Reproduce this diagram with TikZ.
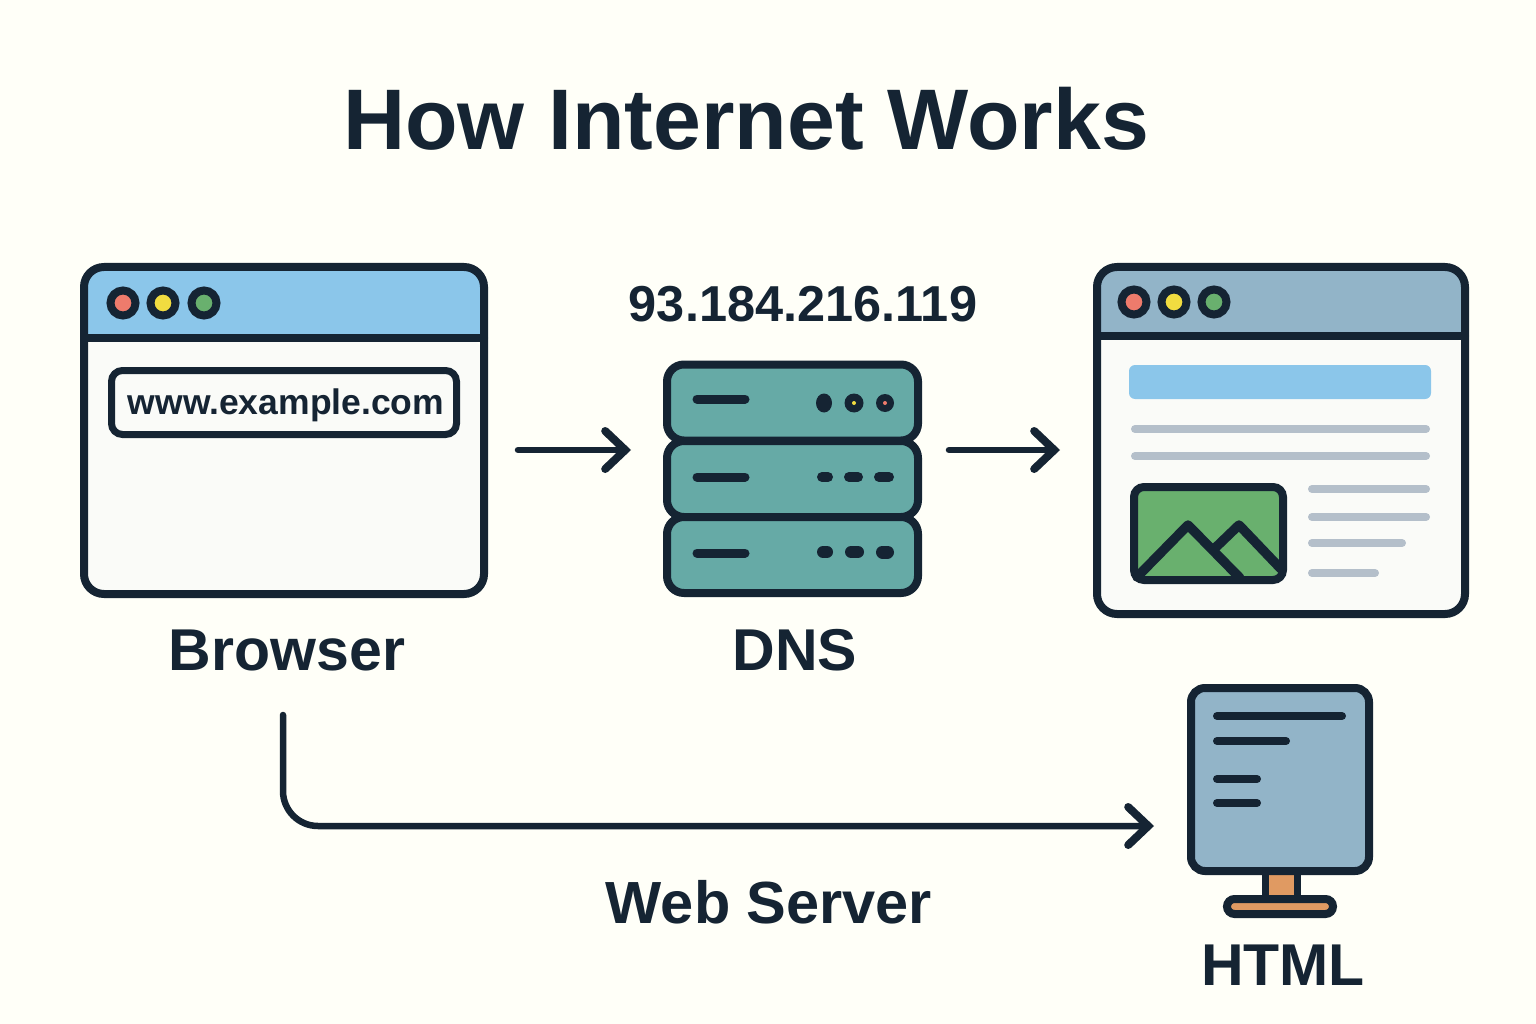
\documentclass[tikz,border=0pt]{standalone}
\usepackage{fontspec}
\setmainfont{Liberation Sans}
\usetikzlibrary{arrows.meta, shapes.geometric}
\definecolor{paperc}{HTML}{FFFFF8}
\definecolor{inkc}{HTML}{152433}
\definecolor{bodyc}{HTML}{FAFBF8}
\definecolor{skyc}{HTML}{8BC6EA}
\definecolor{slatec}{HTML}{92B4C8}
\definecolor{tealc}{HTML}{66AAA6}
\definecolor{greenc}{HTML}{69B06E}
\definecolor{redc}{HTML}{EE7B6C}
\definecolor{yellowc}{HTML}{F1DC40}
\definecolor{grayc}{HTML}{B4BFCA}
\definecolor{orangec}{HTML}{E09A62}
\tikzset{every node/.style={inner sep=0pt, outer sep=0pt, text=inkc}}
\tikzset{window/.style={draw=inkc, line width=8pt, rounded corners=20pt}}
\tikzset{rack/.style={draw=inkc, line width=8pt, fill=tealc, rounded corners=17pt, minimum width=251pt, minimum height=76pt}}
\tikzset{lamp/.style={circle, draw=inkc, line width=8pt, minimum size=25pt}}
\tikzset{flow/.style={->, draw=inkc, line width=6.5pt, line cap=round}}
\tikzset{ink/.style={draw=inkc, line cap=round, line join=round, line width=8pt}}
\tikzset{slot/.style={draw=inkc, line cap=round, line width=9pt}}
\tikzset{rule/.style={draw=grayc, line cap=round, line width=8pt}}
\tikzset{label/.style={anchor=base, font=\fontsize{59}{59}\selectfont\bfseries}}

\begin{document}
\begin{tikzpicture}[x=1pt, y=-1pt, >={Straight Barb[length=20pt, width=38pt, line width=8pt, line cap=round, line join=miter]}]
\fill[paperc] (0,0) rectangle (1536,1024);
\useasboundingbox (0,0) rectangle (1536,1024);
\node[label, font=\fontsize{86}{86}\selectfont\bfseries] (title) at (746,150) {How Internet Works};

\fill[bodyc, rounded corners=20pt] (84,338) -- (84,594) -- (484,594) -- (484,338) -- cycle;
\fill[skyc] (84,338) [rounded corners=20pt] -- (84,267) -- (484,267) [sharp corners] -- (484,338) -- cycle;
\node[window, minimum width=400pt, minimum height=327pt] (browser) at (284,430.5) {};
\draw[ink] (browser.west |- 0,338) -- (browser.east |- 0,338);
\node[lamp, fill=redc] (B0L0) at (123,303) {};
\node[lamp, fill=yellowc] (B0L1) at (163,303) {};
\node[lamp, fill=greenc] (B0L2) at (204,303) {};
\node[draw=inkc, line width=7pt, fill=bodyc, rounded corners=11pt, minimum width=345pt, minimum height=64pt] (address) at (284,402.5) {};
\node[anchor=base, font=\fontsize{35.5}{35.5}\selectfont\bfseries] (url) at (286,414) {www.example.com};
\node[label] (browserlabel) at (287,670) {Browser};

\node[anchor=base, font=\fontsize{50.5}{50.5}\selectfont\bfseries] (ip) at (803,321) {93.184.216.119};
\node[rack] (R0) at (792.5,402.5) {};
\node[rack] (R1) at (792.5,479) {};
\node[rack] (R2) at (792.5,555) {};
\draw[slot] (697,399) -- (745,399);
\draw[slot] (697,477) -- (745,477);
\draw[slot] (697,553) -- (745,553);
\node[ellipse, fill=inkc, minimum width=16pt, minimum height=19pt] (R0D0) at (824,403) {};
\node[circle, fill=inkc, minimum size=19pt] (R0D1) at (854,403) {};
\node[circle, fill=yellowc, minimum size=4pt] (R0D1C) at (854,403) {};
\node[circle, fill=inkc, minimum size=18pt] (R0D2) at (885,403) {};
\node[circle, fill=redc, minimum size=4pt] (R0D2C) at (885,403) {};
\draw[slot, line width=10pt] (822,477) -- (828,477);
\draw[slot, line width=10pt] (849,477) -- (858,477);
\draw[slot, line width=10pt] (879,477) -- (889,477);
\draw[slot, line width=12pt] (823,552) -- (827,552);
\draw[slot, line width=12pt] (851,552) -- (858,552);
\draw[slot, line width=13pt] (882.5,552) -- (887.5,552);
\node[label] (dnslabel) at (795,670) {DNS};

\fill[bodyc, rounded corners=20pt] (1097,335) -- (1097,614) -- (1465,614) -- (1465,335) -- cycle;
\fill[slatec] (1097,335) [rounded corners=20pt] -- (1097,267) -- (1465,267) [sharp corners] -- (1465,335) -- cycle;
\node[window, minimum width=368pt, minimum height=347pt] (page) at (1281,440.5) {};
\draw[ink] (page.west |- 0,335.5) -- (page.east |- 0,335.5);
\node[lamp, fill=redc] (P0L0) at (1134,302) {};
\node[lamp, fill=yellowc] (P0L1) at (1174,302) {};
\node[lamp, fill=greenc] (P0L2) at (1214,302) {};
\node[fill=skyc, rounded corners=6pt, minimum width=302pt, minimum height=34pt] (banner) at (1280,382) {};
\draw[rule] (1135,429) -- (1426,429);
\draw[rule] (1135,456) -- (1426,456);
\draw[rule] (1312,489) -- (1426,489);
\draw[rule] (1312,517) -- (1426,517);
\draw[rule] (1312,543) -- (1402,543);
\draw[rule] (1312,573) -- (1375,573);
\node[draw=inkc, line width=8pt, fill=greenc, rounded corners=10pt, minimum width=149pt, minimum height=93pt] (photo) at (1208.5,533.5) {};
\draw[ink, line width=9.5pt] (1137,577) -- (1188,525) -- (1240,578);
\draw[ink, line width=9.5pt] (1213,550) -- (1239,525) -- (1281,569);

\node[draw=inkc, line width=7.5pt, fill=orangec, minimum width=32pt, minimum height=28pt] (neck) at (1281.5,885) {};
\node[draw=inkc, line width=8pt, fill=slatec, rounded corners=14pt, minimum width=178pt, minimum height=183pt] (monitor) at (1280,779.5) {};
\node[draw=inkc, line width=8pt, fill=orangec, rounded corners=7.5pt, minimum width=106pt, minimum height=15pt] (stand) at (1280,906.5) {};
\draw[ink] (1217,716) -- (1342,716);
\draw[ink] (1217,741) -- (1286,741);
\draw[ink] (1217,779) -- (1257,779);
\draw[ink] (1217,803) -- (1257,803);
\node[label] (htmllabel) at (1283,985) {HTML};

\node[label, font=\fontsize{59.5}{59.5}\selectfont\bfseries] (serverlabel) at (769,923) {Web Server};

\draw[flow] ([xshift=34pt, yshift=-19.5pt]browser.east) -- ([xshift=-36pt, yshift=29pt]R1.west);
\draw[flow] ([xshift=31pt, yshift=29pt]R1.east) -- ([xshift=-37pt, yshift=-9.5pt]page.west);
\draw[flow, rounded corners=35pt] ([xshift=-1pt, yshift=-121pt]browser.south) |- ([xshift=-37pt, yshift=-46.5pt]monitor.west);
\end{tikzpicture}
\end{document}
